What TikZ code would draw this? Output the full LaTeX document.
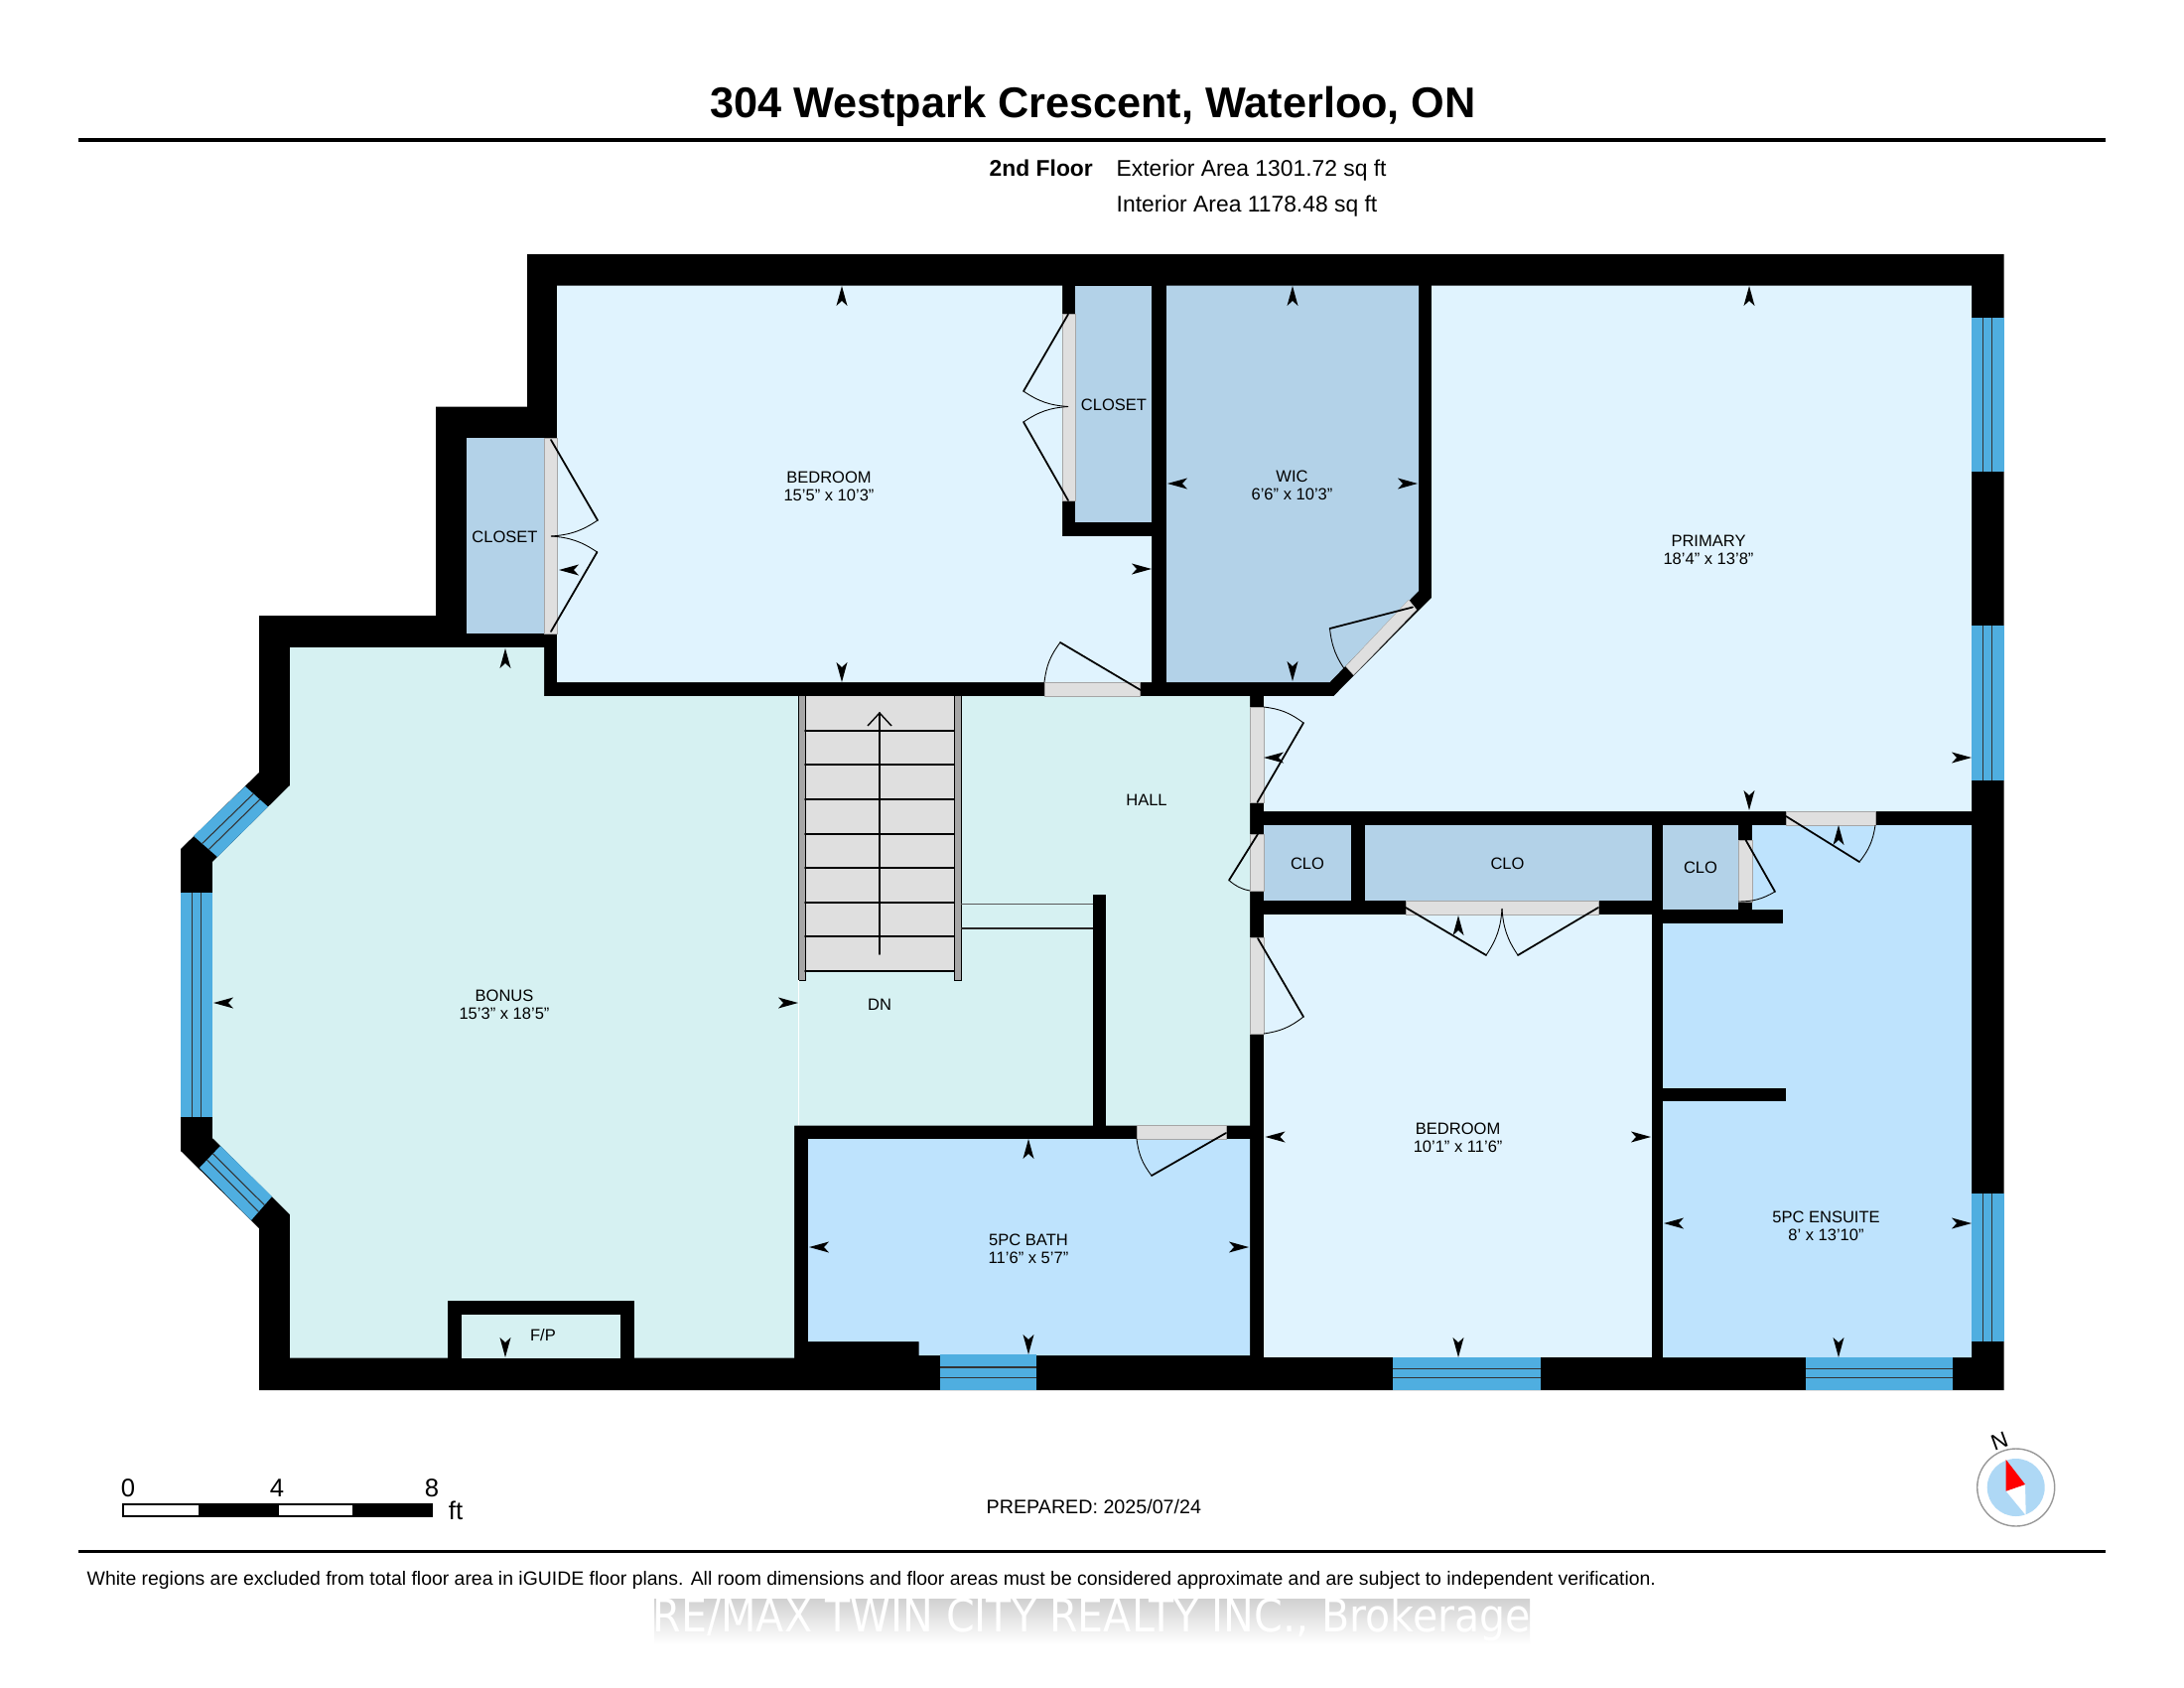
\documentclass[tikz,border=0pt]{standalone}
\usepackage{fontspec}
\setmainfont{Liberation Sans}
\newfontfamily\markfont[FakeStretch=0.9]{DejaVu Sans}
\usetikzlibrary{calc}
\definecolor{roomlight}{HTML}{E0F3FE}
\definecolor{roomcloset}{HTML}{B3D2E8}
\definecolor{roomteal}{HTML}{D6F1F2}
\definecolor{roombath}{HTML}{BEE3FD}
\definecolor{glassblue}{HTML}{4FAEE0}
\definecolor{gapgrey}{HTML}{DFDFDF}
\definecolor{railgrey}{HTML}{A6A6A6}
\definecolor{dialblue}{HTML}{AED8F5}
\tikzset{
  roomtext/.style={font=\fontsize{4.7pt}{5.2pt}\selectfont, text=black, inner sep=0pt, align=center},
  infotext/.style={font=\fontsize{6.5pt}{7.5pt}\selectfont, inner sep=0pt, anchor=base west},
  scaletext/.style={font=\fontsize{7.3pt}{8pt}\selectfont, inner sep=0pt},
  doorleaf/.style={line width=0.5pt, line cap=round},
  doorarc/.style={line width=0.25pt},
  doorgap/.style={fill=gapgrey, draw=black!35, line width=0.1pt},
  hairline/.style={line width=0.3pt, draw=black!80},
  dimtip/.pic={\fill (0,0) -- (-20,5.5) -- (-15,0) -- (-20,-5.5) -- cycle;}
}
\begin{document}
\begin{tikzpicture}[x=0.01cm,y=-0.01cm]
  \useasboundingbox (0,0) rectangle (2200,1700);
  \fill[white] (0,0) rectangle (2200,1700);

  % header
  \node[font=\fontsize{12.3pt}{14pt}\selectfont\bfseries, inner sep=0pt] (title) at (1101,107) {304 Westpark Crescent, Waterloo, ON};
  \fill (79,139.5) rectangle (2121,143.5);
  \node[infotext, font=\fontsize{6.5pt}{7.5pt}\selectfont\bfseries] (floorname) at (996,178) {2nd Floor};
  \node[infotext] (extarea) at (1124,178) {Exterior Area 1301.72 sq ft};
  \node[infotext] (intarea) at (1124,213) {Interior Area 1178.48 sq ft};

  % walls as one solid, rooms cut out of it
  \fill (531,256) -- (2018.5,256) -- (2018.5,1400) -- (261,1400) -- (261,1237) -- (182,1159)
    -- (182,855) -- (261,778) -- (261,620) -- (439,620) -- (439,409.5) -- (531,409.5) -- cycle;
  \fill[roomteal] (292,652) -- (548,652) -- (548,701) -- (1259,701) -- (1259,1133.5) -- (800,1133.5)
    -- (800,1367.5) -- (292,1367.5) -- (292,1223) -- (214,1146) -- (214,868) -- (292,791) -- cycle;
  \fill[roomlight] (561,287.5) -- (1070,287.5) -- (1070,540) -- (1160,540) -- (1160,687) -- (561,687) -- cycle;
  \fill[roomlight] (1442,287.5) -- (1986,287.5) -- (1986,817) -- (1273,817) -- (1273,701) -- (1343.5,701) -- (1442,602) -- cycle;
  \fill[roomlight] (1273,921) rectangle (1664,1367);
  \fill[roomcloset] (1175,287.5) -- (1429,287.5) -- (1429,595) -- (1339.5,687) -- (1175,687) -- cycle;
  \foreach \xa/\ya/\xb/\yb in {470/441/548/638, 1083/287.5/1160/526, 1273/831/1361/907, 1374.5/831/1664/907, 1675/831/1751/916}
    \fill[roomcloset] (\xa,\ya) rectangle (\xb,\yb);
  \fill[roombath] (814,1147) -- (1259,1147) -- (1259,1365) -- (925.5,1365) -- (925.5,1351) -- (814,1351) -- cycle;
  \fill[roombath] (1765,831) -- (1986,831) -- (1986,1367) -- (1675,1367) -- (1675,930) -- (1796,930) -- (1796,916) -- (1765,916) -- cycle;

  % short walls
  \fill (1101,901) rectangle (1114,1134);
  \fill (1675,1095.5) rectangle (1799,1109);
  \fill (451,1310) rectangle (639,1367.5);
  \fill[roomteal] (465,1324) rectangle (625,1367.5);

  % door openings
  \foreach \xa/\ya/\xb/\yb in {548/441/561/638, 1070/316.5/1083/504, 1052/687/1148/701, 1259/712/1273/808, 1259/840/1273/897,
      1259/944.5/1273/1041, 1751/846/1765/908, 1799/817/1889/831, 1416/907/1610/921, 1145/1133.5/1235/1147}
    \path[doorgap] (\xa,\ya) rectangle (\xb,\yb);
  \path[doorgap] (1355.5,671) -- (1363.5,680) -- (1427,614) -- (1419,604) -- cycle;

  % door leaves: hinge, tip, end of swing, bend
  \foreach \hx/\hy/\tx/\ty/\ex/\ey/\b in {
      555/443/602/524/555/540/15, 555/636/601.5/556/555/540/-15,
      1076/316.5/1031/394/1076/409.5/-15, 1076/504/1031/425/1076/409.5/15,
      1149/695/1068/647/1052/687/-15, 1423/611.5/1339.5/633/1357/677.5/-15,
      1266.5/808/1313/728/1273/712/-15, 1267/840/1238/886.5/1259/897/-15,
      1267/945/1313/1024/1273/1041/15, 1235/1141/1160/1184/1145/1147/15,
      1416/914/1497/962/1513/915/-15, 1610/914/1529/962/1513/915/15,
      1758.5/846/1788/898/1751/908/15, 1799/822/1873/868/1889/831/-15}
  {
    \draw[doorleaf] (\hx,\hy) -- (\tx,\ty);
    \draw[doorarc] (\tx,\ty) to[bend left=\b] (\ex,\ey);
  }

  % windows: two long edges, outer then inner
  \foreach \ax/\ay/\bx/\by/\cx/\cy/\dx/\dy in {
      247/792/195/842/219/863/270/812.5, 182/899/182/1125/214/1125/214/899,
      201/1176/253/1229/274/1205/222/1154, 2018.5/320/2018.5/475/1986/475/1986/320,
      2018.5/630/2018.5/785.5/1986/785.5/1986/630, 2018.5/1202/2018.5/1351/1986/1351/1986/1202,
      947/1400/1044/1400/1044/1364/947/1364, 1403/1399.5/1552/1399.5/1552/1367/1403/1367,
      1819/1399.5/1967/1399.5/1967/1367/1819/1367}
  {
    \fill[glassblue] (\ax,\ay) -- (\bx,\by) -- (\cx,\cy) -- (\dx,\dy) -- cycle;
    \foreach \f in {0.36,0.64}
      \draw[hairline] ($(\ax,\ay)!\f!(\dx,\dy)$) -- ($(\bx,\by)!\f!(\cx,\cy)$);
  }

  % stairs
  \fill[gapgrey] (811,701) rectangle (961,978);
  \fill[railgrey] (804,701) rectangle (811,987);
  \fill[railgrey] (961,701) rectangle (968,987);
  \draw[line width=0.15pt] (804,701) -- (804,987) -- (811,987) -- (811,701) (961,701) -- (961,987) -- (968,987) -- (968,701);
  \foreach \y in {736,770,805,840,874,909,943,978}
    \draw[doorleaf] (811,\y) -- (961,\y);
  \draw[doorleaf] (886,961) -- (886,718);
  \draw[line width=0.4pt] (874,731) -- (886,718) -- (898,731);
  \draw[line width=0.45pt, draw=black!65] (968,910.5) -- (1101,910.5);
  \draw[line width=0.45pt, draw=black!85] (968,935) -- (1101,935);
  \draw[line width=0.1pt, white] (804,987) -- (804,1133);

  % dimension marks
  \foreach \x/\y/\a in {
      848/288/90, 848/687/-90, 563/574/180, 1160/573/0,
      1302/288/90, 1302/686/-90, 1176/487/180, 1428/487/0,
      1762/288/90, 1762/816/-90, 1986/763/0, 1273/763/180,
      509/653/90, 509/1367/-90, 215/1010/180, 804/1010/0,
      1036/1147/90, 1036/1364/-90, 815/1256/180, 1258/1256/0,
      1469/922/90, 1469/1367/-90, 1274.5/1145/180, 1663/1145/0,
      1852/831/90, 1852/1367/-90, 1676/1232/180, 1986/1232/0}
    \pic[rotate=\a] at (\x,\y) {dimtip};

  % room labels
  \node[roomtext] (bedroomN) at (835,490) {BEDROOM\\15'5" x 10'3"};
  \node[roomtext] (closetW) at (508.5,540.5) {CLOSET};
  \node[roomtext] (closetE) at (1122,408) {CLOSET};
  \node[roomtext] (wic) at (1301.5,488.5) {WIC\\6'6" x 10'3"};
  \node[roomtext] (primary) at (1721,554) {PRIMARY\\18'4" x 13'8"};
  \node[roomtext] (hall) at (1155,806) {HALL};
  \node[roomtext] (bonus) at (508,1011.5) {BONUS\\15'3" x 18'5"};
  \node[roomtext] (down) at (886,1011.5) {DN};
  \node[roomtext] (fireplace) at (547,1345) {F/P};
  \node[roomtext] (bath) at (1036,1257.5) {5PC BATH\\11'6" x 5'7"};
  \node[roomtext] (cloA) at (1317,870) {CLO};
  \node[roomtext] (cloB) at (1518.5,870) {CLO};
  \node[roomtext] (cloC) at (1713,874) {CLO};
  \node[roomtext] (bedroomS) at (1468.6,1146) {BEDROOM\\10'1" x 11'6"};
  \node[roomtext] (ensuite) at (1839.5,1235) {5PC ENSUITE\\8' x 13'10"};

  % scale bar
  \foreach \xa/\xb/\c in {124/201/white, 201/280/black, 280/356/white, 356/435/black}
    \draw[line width=0.3pt, fill=\c] (\xa,1515) rectangle (\xb,1527);
  \node[scaletext] (scalezero) at (129,1499) {0};
  \node[scaletext] (scalefour) at (279,1499) {4};
  \node[scaletext] (scaleeight) at (435,1499) {8};
  \node[scaletext] (scaleunit) at (459,1521) {ft};

  \node[font=\fontsize{5.6pt}{6.5pt}\selectfont, inner sep=0pt, anchor=west] (prepared) at (993,1517) {PREPARED: 2025/07/24};

  % compass
  \draw[draw=black!40, line width=0.4pt] (2030.7,1498) circle (39);
  \fill[dialblue] (2030.7,1498) circle (29);
  \fill[white] (2020.7,1501.7) -- (2040,1495) -- (2040.7,1526) -- cycle;
  \fill[red] (2020.7,1470) -- (2040,1495) -- (2020.7,1501.7) -- cycle;
  \node[font=\fontsize{6.4pt}{7pt}\selectfont, inner sep=0pt, rotate=20] (north) at (2014,1451) {N};

  % footer
  \fill (79,1560.5) rectangle (2121,1564);
  \node[font=\fontsize{5.52pt}{6.5pt}\selectfont, inner sep=0pt, anchor=west] (disclaimer) at (87,1591.5) {White regions are excluded from total floor area in iGUIDE floor plans. All room dimensions and floor areas must be considered approximate and are subject to independent verification.};
  \shade[top color=black!18, bottom color=white] (659,1610) rectangle (1541,1656);
  \node[font=\fontsize{13pt}{15pt}\selectfont\markfont, text=white, inner sep=0pt] (brokerage) at (1100,1631) {RE/MAX TWIN CITY REALTY INC., Brokerage};
\end{tikzpicture}
\end{document}
